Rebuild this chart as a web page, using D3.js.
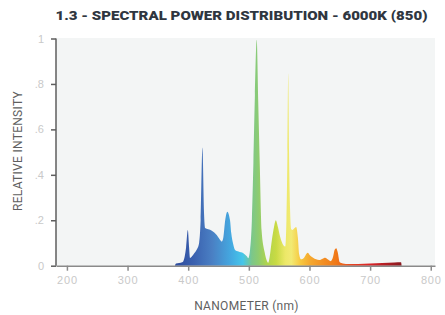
<!DOCTYPE html>
<html>
<head>
<meta charset="utf-8">
<script src="https://cdn.jsdelivr.net/npm/d3@7"></script>
<style>
  html, body { margin: 0; padding: 0; background: #ffffff; }
  svg { display: block; }
</style>
</head>
<body>
<script>
// spectrum samples (nm, relative intensity)
const wavelengths = [378, 380, 385, 390, 392, 396.5, 399.4, 401.5, 403, 406, 410, 414, 418, 420.5, 423.5, 426, 428, 433, 439, 447, 452.7, 455.4, 458, 461, 464.5, 469, 471, 474, 477.4, 483, 491, 497, 499, 502, 505, 507.5, 510, 513, 515.5, 518, 521, 526, 530, 532, 535, 538, 541.5, 544.5, 548, 551.5, 557, 560, 562, 563.7, 565, 566.3, 568, 570, 572, 575, 578, 581, 583, 586, 591, 597, 601, 606, 611, 616, 621, 626, 630, 635, 639, 641.5, 644, 646.5, 650, 655, 660, 680, 700, 720, 740, 751, 752];
const intensity   = [0, 0.01, 0.012, 0.015, 0.02, 0.08, 0.157, 0.08, 0.034, 0.04, 0.055, 0.07, 0.1, 0.2, 0.52, 0.24, 0.166, 0.16, 0.154, 0.135, 0.113, 0.106, 0.125, 0.2, 0.238, 0.2, 0.144, 0.098, 0.069, 0.062, 0.055, 0.04, 0.033, 0.07, 0.2, 0.45, 0.75, 0.995, 0.72, 0.45, 0.157, 0.06, 0.02, 0.013, 0.05, 0.113, 0.17, 0.2, 0.17, 0.128, 0.09, 0.084, 0.2, 0.5, 0.847, 0.5, 0.25, 0.16, 0.157, 0.165, 0.17, 0.12, 0.05, 0.028, 0.035, 0.057, 0.045, 0.035, 0.028, 0.025, 0.03, 0.035, 0.028, 0.02, 0.04, 0.07, 0.077, 0.06, 0.015, 0.01, 0.008, 0.008, 0.01, 0.012, 0.014, 0.015, 0];

// colour of the fill along the spectrum
const colorStopsNm = [380, 410, 440, 470, 490, 505, 515, 530, 545, 560, 570, 585, 600, 625, 645, 670, 700, 750];
const colorStops   = ["#2d4c9e", "#3b62b0", "#4a80c4", "#44a8e0", "#46c6ea", "#7cc78a", "#8ccb72", "#b0d44c", "#c8da44", "#ece868", "#f2ea74", "#f7c840", "#f5aa30", "#f28c22", "#f07818", "#e84421", "#dc2428", "#8c1a20"];

const xTicks = [200, 300, 400, 500, 600, 700, 800];
const yTicks = [0, 0.2, 0.4, 0.6, 0.8, 1];

const titleText = "1.3 - SPECTRAL POWER DISTRIBUTION - 6000K (850)";
const xTitle = "NANOMETER (nm)";
const yTitle = "RELATIVE INTENSITY";

const width = 445;
const height = 315;
const plot = {left: 56, right: 435, top: 38, bottom: 265.7};

const x = d3.scaleLinear().domain([182, 807]).range([plot.left, plot.right]);
const y = d3.scaleLinear().domain([0, 1]).range([plot.bottom, 38.5]);

const svg = d3.select("body").append("svg")
  .attr("width", width)
  .attr("height", height)
  .style("font-family", "Roboto, 'Open Sans', sans-serif");

const defs = svg.append("defs");
const grad = defs.append("linearGradient")
  .attr("id", "spd-grad")
  .attr("gradientUnits", "userSpaceOnUse")
  .attr("x1", x(colorStopsNm[0])).attr("x2", x(colorStopsNm[colorStopsNm.length - 1]))
  .attr("y1", 0).attr("y2", 0);
const span = colorStopsNm[colorStopsNm.length - 1] - colorStopsNm[0];
grad.selectAll("stop").data(colorStopsNm).join("stop")
  .attr("offset", d => (d - colorStopsNm[0]) / span)
  .attr("stop-color", (d, i) => colorStops[i]);

// plot background
svg.append("rect")
  .attr("x", plot.left).attr("y", plot.top)
  .attr("width", plot.right - plot.left).attr("height", plot.bottom - plot.top)
  .attr("fill", "#f3f5f5");

const points = wavelengths.map((w, i) => ({nm: w, v: intensity[i]}));
const area = d3.area()
  .x(d => x(d.nm))
  .y0(y(0))
  .y1(d => y(d.v))
  .curve(d3.curveMonotoneX);

svg.append("path").datum(points)
  .attr("d", area)
  .attr("fill", "url(#spd-grad)");

// axes
const xAxisG = svg.append("g")
  .attr("transform", `translate(0,${plot.bottom})`)
  .call(d3.axisBottom(x).tickValues(xTicks).tickSize(5).tickPadding(6).tickSizeOuter(0));
xAxisG.select(".domain").attr("stroke", "#8a8a8a").attr("stroke-width", 1.5);
xAxisG.selectAll(".tick line").attr("stroke", "#8a8a8a").attr("stroke-width", 1.5);
xAxisG.selectAll(".tick text").attr("fill", "#c9c9c9").attr("font-size", "11px").attr("letter-spacing", "0.8px");

const yAxisG = svg.append("g")
  .attr("transform", `translate(${plot.left},0)`)
  .call(d3.axisLeft(y).tickValues(yTicks).tickSize(5).tickPadding(7).tickSizeOuter(0)
    .tickFormat(d => d === 0 ? "0" : d === 1 ? "1" : d3.format(".1f")(d).replace(/^0/, "")));
yAxisG.select(".domain").attr("stroke", "#5e5e5e").attr("stroke-width", 1.5)
  .attr("d", `M0,${y(1)}V${plot.bottom}`);
yAxisG.selectAll(".tick line").attr("stroke", "#5e5e5e").attr("stroke-width", 1.5);
yAxisG.selectAll(".tick text").attr("fill", "#c9c9c9").attr("font-size", "11px");

// titles
svg.append("text")
  .attr("x", 241.5).attr("y", 20)
  .attr("text-anchor", "middle")
  .attr("fill", "#2f3640")
  .attr("font-size", "13.5px")
  .attr("font-weight", 900)
  .attr("textLength", 372)
  .attr("lengthAdjust", "spacingAndGlyphs")
  .text(titleText);

svg.append("text")
  .attr("x", 246.5).attr("y", 310)
  .attr("text-anchor", "middle")
  .attr("fill", "#5f5f5f")
  .attr("font-size", "12px")
  .attr("letter-spacing", "0.3px")
  .text(xTitle);

svg.append("text")
  .attr("transform", "rotate(-90)")
  .attr("x", -151).attr("y", 22)
  .attr("text-anchor", "middle")
  .attr("fill", "#5f5f5f")
  .attr("font-size", "12px")
  .attr("letter-spacing", "0.3px")
  .text(yTitle);
</script>
</body>
</html>
